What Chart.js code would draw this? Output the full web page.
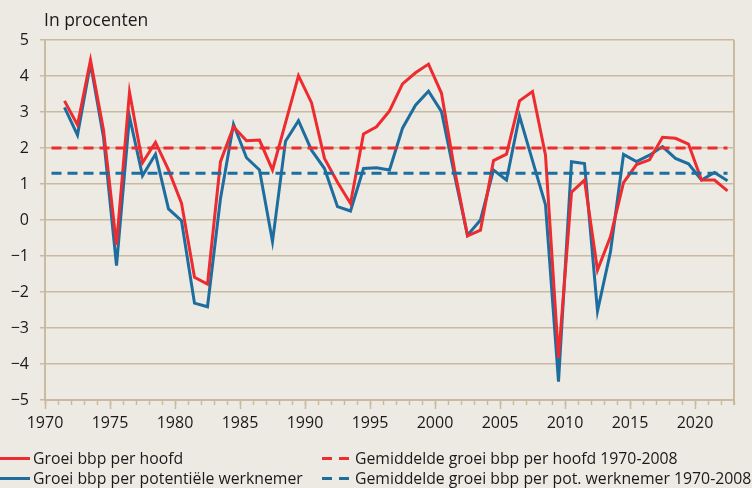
<!DOCTYPE html>
<html>
<head>
<meta charset="utf-8">
<script src="https://cdn.jsdelivr.net/npm/chart.js@4.4.1/dist/chart.umd.min.js"></script>
<style>
  html, body { margin: 0; padding: 0; background: #edeae3; }
  #wrap { position: relative; width: 752px; height: 488px; background: #edeae3; overflow: hidden;
          font-family: "Open Sans", Lato, sans-serif; color: #1a1a1a; }
  #c { position: absolute; left: 0; top: 0; }
  #title { position: absolute; left: 44px; top: 7px; font-size: 17.5px; }
  .leg { position: absolute; font-size: 15.8px; white-space: nowrap; display: flex; align-items: center; }
  .sw { display: inline-block; width: 30px; height: 3px; margin-right: 3px; }
  .dr { width: 27px; margin-right: 6px; background: repeating-linear-gradient(90deg, #ee2b2e 0 10px, transparent 10px 17px); }
  .db { width: 27px; margin-right: 6px; background: repeating-linear-gradient(90deg, #1d6d9e 0 10px, transparent 10px 17px); }
</style>
</head>
<body>
<div id="wrap">
  <canvas id="c" width="752" height="488"></canvas>
  <div id="title">In procenten</div>
  <div class="leg" style="left:0;top:447px"><span class="sw" style="background:#ee2b2e"></span>Groei bbp per hoofd</div>
  <div class="leg" style="left:0;top:467px"><span class="sw" style="background:#1d6d9e"></span>Groei bbp per potentiële werknemer</div>
  <div class="leg" style="left:322px;top:447px"><span class="sw dr"></span>Gemiddelde groei bbp per hoofd 1970-2008</div>
  <div class="leg" style="left:322px;top:467px"><span class="sw db"></span>Gemiddelde groei bbp per pot. werknemer 1970-2008</div>
</div>
<script>
const years = [1971,1972,1973,1974,1975,1976,1977,1978,1979,1980,1981,1982,1983,1984,1985,1986,1987,1988,1989,1990,
  1991,1992,1993,1994,1995,1996,1997,1998,1999,2000,2001,2002,2003,2004,2005,2006,2007,2008,2009,2010,
  2011,2012,2013,2014,2015,2016,2017,2018,2019,2020,2021,2022];
const groeiPerHoofd = [3.31,2.64,4.44,2.5,-0.69,3.55,1.59,2.16,1.39,0.47,-1.59,-1.78,1.62,2.59,2.2,2.22,1.39,2.7,4.01,3.26,
  1.71,1.05,0.46,2.39,2.59,3.03,3.78,4.09,4.33,3.52,1.4,-0.44,-0.28,1.65,1.83,3.31,3.57,1.8,-3.83,0.77,
  1.11,-1.39,-0.46,1.04,1.54,1.67,2.30,2.27,2.11,1.11,1.11,0.81];
const groeiPerWerknemer = [3.13,2.36,4.35,2.3,-1.27,2.87,1.23,1.83,0.31,-0.02,-2.31,-2.41,0.6,2.66,1.73,1.39,-0.6,2.19,2.76,1.94,
  1.43,0.37,0.25,1.43,1.45,1.39,2.55,3.19,3.58,3.01,1.25,-0.42,0.0,1.39,1.11,2.89,1.65,0.42,-4.49,1.62,
  1.57,-2.53,-0.88,1.82,1.62,1.8,2.04,1.71,1.56,1.11,1.32,1.09];
const gemPerHoofd = 2.0;
const gemPerWerknemer = 1.3;
const avgPeriod = [1970, 2022];
const yTicks = [-5,-4,-3,-2,-1,0,1,2,3,4,5];
const xLabelYears = [1970,1975,1980,1985,1990,1995,2000,2005,2010,2015,2020];

const RED = '#ee2b2e', BLUE = '#1d6d9e', GRID = '#c9baa0';
const mid = y => y + 0.5;

const extraTicks = {
  id: 'extraTicks',
  afterDraw(chart) {
    const ctx = chart.ctx, xs = chart.scales.x, a = chart.chartArea;
    ctx.save();
    ctx.strokeStyle = GRID; ctx.lineWidth = 1.5;
    xLabelYears.forEach(v => {
      const px = Math.round(xs.getPixelForValue(v)) + 0.5;
      ctx.beginPath(); ctx.moveTo(px, a.bottom); ctx.lineTo(px, a.bottom + 9); ctx.stroke();
    });
    ctx.lineWidth = 2;
    ctx.beginPath(); ctx.moveTo(a.right, a.top); ctx.lineTo(a.right, a.bottom + 5); ctx.stroke();
    ctx.restore();
  }
};

new Chart(document.getElementById('c'), {
  type: 'line',
  data: {
    datasets: [
      { label: 'Gemiddelde groei bbp per hoofd 1970-2008',
        data: avgPeriod.map(y => ({x: mid(y), y: gemPerHoofd})),
        borderColor: RED, borderWidth: 3, borderDash: [10,6], pointRadius: 0 },
      { label: 'Gemiddelde groei bbp per pot. werknemer 1970-2008',
        data: avgPeriod.map(y => ({x: mid(y), y: gemPerWerknemer})),
        borderColor: BLUE, borderWidth: 3, borderDash: [10,6], pointRadius: 0 },
      { label: 'Groei bbp per hoofd',
        data: years.map((y,i) => ({x: mid(y), y: groeiPerHoofd[i]})),
        borderColor: RED, borderWidth: 3, pointRadius: 0, tension: 0 },
      { label: 'Groei bbp per potentiële werknemer',
        data: years.map((y,i) => ({x: mid(y), y: groeiPerWerknemer[i]})),
        borderColor: BLUE, borderWidth: 3, pointRadius: 0, tension: 0 }
    ]
  },
  options: {
    responsive: false,
    animation: false,
    layout: { padding: { top: 40, right: 18, left: 0, bottom: 0 } },
    plugins: { legend: { display: false }, tooltip: { enabled: false } },
    scales: {
      x: {
        type: 'linear', min: 1970, max: 2023,
        afterFit: s => { s.height = 88; },
        ticks: { stepSize: 1, autoSkip: false, maxRotation: 0, padding: 9,
          color: '#1a1a1a', font: { family: '"Open Sans", Lato, sans-serif', size: 16 },
          callback: v => xLabelYears.includes(v) ? String(v) : '' },
        grid: { drawOnChartArea: false, drawTicks: true, tickLength: 5, tickColor: GRID, tickWidth: 1.5 },
        border: { color: GRID, width: 2 }
      },
      y: {
        min: -5, max: 5,
        afterFit: s => { s.width = 45; },
        afterBuildTicks: s => { s.ticks = yTicks.map(v => ({value: v})); },
        ticks: { padding: 11, color: '#1a1a1a', font: { family: '"Open Sans", Lato, sans-serif', size: 16 },
          callback: v => String(v).replace('-', '\u2212') },
        grid: { color: GRID, lineWidth: 1.5, tickLength: 5, tickColor: GRID },
        border: { color: GRID, width: 2 }
      }
    }
  },
  plugins: [extraTicks]
});
</script>
</body>
</html>
